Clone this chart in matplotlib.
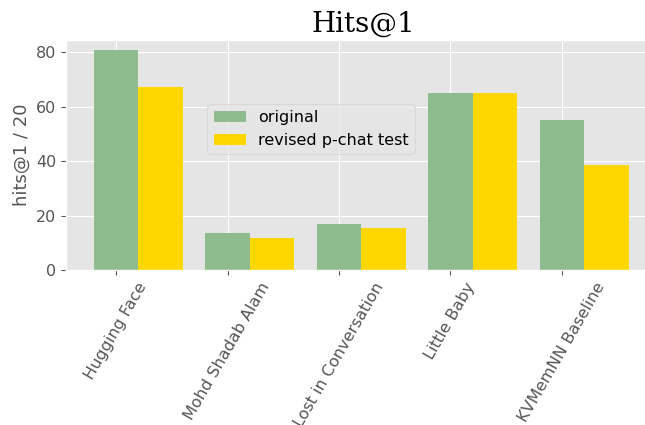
import matplotlib
matplotlib.use("Agg")
import matplotlib.pyplot as plt
import numpy as np

plt.style.use("ggplot")

categories = ["Hugging Face", "Mohd Shadab Alam", "Lost in Conversation", "Little Baby", "KVMemNN Baseline"]
original = [80.8, 13.7, 17.0, 65.1, 55.1]
revised = [67.3, 11.9, 15.5, 65.1, 38.6]

fig = plt.figure(figsize=(6.45, 4.25), dpi=100)
ax = fig.add_axes([66/645, (425-270)/425, (660-66)/645, 230/425])

x = np.arange(len(categories))
w = 0.4
ax.bar(x, original, w, color="darkseagreen", label="original")
ax.bar(x + w, revised, w, color="gold", label="revised p-chat test")

ax.set_xticks(x)
ax.set_xticklabels(categories, rotation=60, fontsize=11.5)
ax.tick_params(axis="y", labelsize=11.5)
ax.set_xlim(-0.45, 4.88)
ax.set_ylim(0, 84.5)
ax.set_yticks([0, 20, 40, 60, 80])
ax.set_ylabel("hits@1 / 20", fontsize=13)
ax.set_title("Hits@1", fontsize=20, family="DejaVu Serif", color="black")
ax.legend(loc="center", bbox_to_anchor=(0.413, 0.613), fontsize=11.5)

fig.savefig("out.png", dpi=100)
